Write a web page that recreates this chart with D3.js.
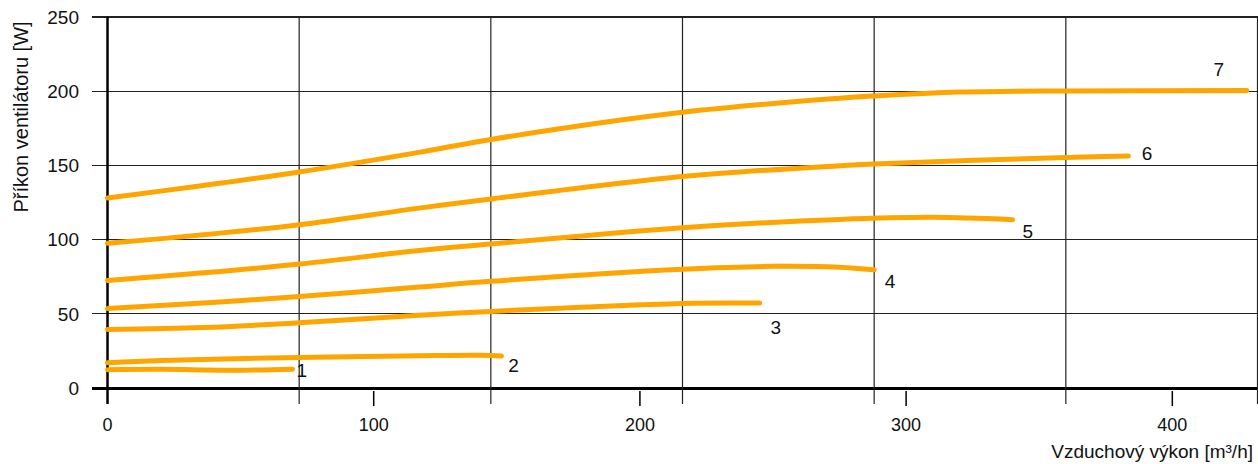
<!DOCTYPE html>
<html><head><meta charset="utf-8">
<script src="https://cdn.jsdelivr.net/npm/d3@7"></script>
<style>
html,body{margin:0;padding:0;background:#fff;}
svg{display:block;font-family:"Liberation Sans",Arial,sans-serif;}
</style></head>
<body>
<svg id="chart" width="1258" height="464"></svg>
<script>
// ---- data ----
const xLabelTicks = [0, 100, 200, 300, 400];
const xGridTicks = [0, 72, 144, 216, 288, 360, 432];
const yTicks = [0, 50, 100, 150, 200, 250];
const curveNames = ["1", "2", "3", "4", "5", "6", "7"];
const curve1 = [[0,12.3],[20,12.6],[45,12.0],[69.5,12.7]];
const curve2 = [[0,17],[20,18.6],[72,20.5],[117,21.7],[140,22],[148,21.5]];
const curve3 = [[0,39.5],[36,40.7],[72,44],[117,49],[144,51.6],[180,54.6],[216,57],[245,57.2]];
const curve4 = [[0,53.5],[36,57.3],[72,61.6],[117,68],[144,71.9],[216,80],[250,82],[275,81.4],[288,79.7]];
const curve5 = [[0,72.5],[36,77.6],[72,83.5],[117,92.6],[144,97],[216,108],[275,113.6],[310,115],[340,113.4]];
const curve6 = [[0,97.6],[36,103.2],[72,110],[117,121.2],[144,127.4],[216,142.5],[275,149.8],[288,151.0],[360,155.4],[383.5,156.4]];
const curve7 = [[0,128],[36,136.5],[72,145.6],[117,158.8],[144,167.5],[216,185.8],[275,195.3],[288,196.8],[320,199.4],[360,200.2],[428,200.4]];
const labelPos = [[73,12.3],[152.5,15.6],[251,41.2],[294,72.2],[345.7,105.9],[390.5,158.4],[417.5,214.9]];
const xTitle = "Vzduchový výkon [m³/h]";
const yTitle = "Příkon ventilátoru [W]";

// ---- drawing ----
const svg = d3.select("#chart");
const x = d3.scaleLinear().domain([0, 432]).range([107.5, 1257.5]);
const y = d3.scaleLinear().domain([0, 250]).range([388, 17]);
const curves = [curve1, curve2, curve3, curve4, curve5, curve6, curve7];

// horizontal grid + left ticks
svg.append("g").selectAll("line").data(yTicks).join("line")
  .attr("x1", 92).attr("x2", x(432))
  .attr("y1", d => y(d)).attr("y2", d => y(d))
  .attr("stroke", d => (d === 0 ? "#000" : "#222"))
  .attr("stroke-width", d => (d === 0 ? 3 : d === 250 ? 2 : 1))
  .attr("shape-rendering", "crispEdges");

// vertical grid, extending below the axis as ticks
svg.append("g").selectAll("line").data(xGridTicks).join("line")
  .attr("x1", d => x(d)).attr("x2", d => x(d))
  .attr("y1", y(250)).attr("y2", 404)
  .attr("stroke", d => (d === 0 ? "#000" : "#222"))
  .attr("stroke-width", d => (d === 0 ? 2.5 : 1.2));

// label ticks
svg.append("g").selectAll("line").data(xLabelTicks.filter(d => d > 0)).join("line")
  .attr("x1", d => x(d)).attr("x2", d => x(d))
  .attr("y1", 391).attr("y2", 406)
  .attr("stroke", "#000").attr("stroke-width", 1.5);

// y tick labels
svg.append("g").selectAll("text").data(yTicks).join("text")
  .attr("x", 79).attr("y", d => y(d)).attr("dy", "0.36em")
  .attr("text-anchor", "end").attr("font-size", 19).attr("fill", "#111")
  .text(d => d);

// x tick labels
svg.append("g").selectAll("text").data(xLabelTicks).join("text")
  .attr("x", d => x(d)).attr("y", 431)
  .attr("text-anchor", "middle").attr("font-size", 18).attr("fill", "#111")
  .text(d => d);

// titles
svg.append("text").attr("x", 1253).attr("y", 458).attr("text-anchor", "end")
  .attr("font-size", 19).attr("fill", "#111").text(xTitle);
svg.append("text").attr("transform", "translate(28,117) rotate(-90)")
  .attr("text-anchor", "middle").attr("font-size", 20).attr("fill", "#111").text(yTitle);

// curves
const line = d3.line().x(d => x(d[0])).y(d => y(d[1])).curve(d3.curveCatmullRom.alpha(0.5));
svg.append("g").selectAll("path").data(curves).join("path")
  .attr("d", line).attr("fill", "none")
  .attr("stroke", "#FFA500").attr("stroke-width", 5)
  .attr("stroke-linecap", "round").attr("stroke-linejoin", "round");

// curve labels
svg.append("g").selectAll("text").data(curveNames).join("text")
  .attr("x", (d, i) => x(labelPos[i][0])).attr("y", (d, i) => y(labelPos[i][1]))
  .attr("dy", "0.36em").attr("text-anchor", "middle")
  .attr("font-size", 19).attr("fill", "#111").text(d => d);
</script>
</body></html>
